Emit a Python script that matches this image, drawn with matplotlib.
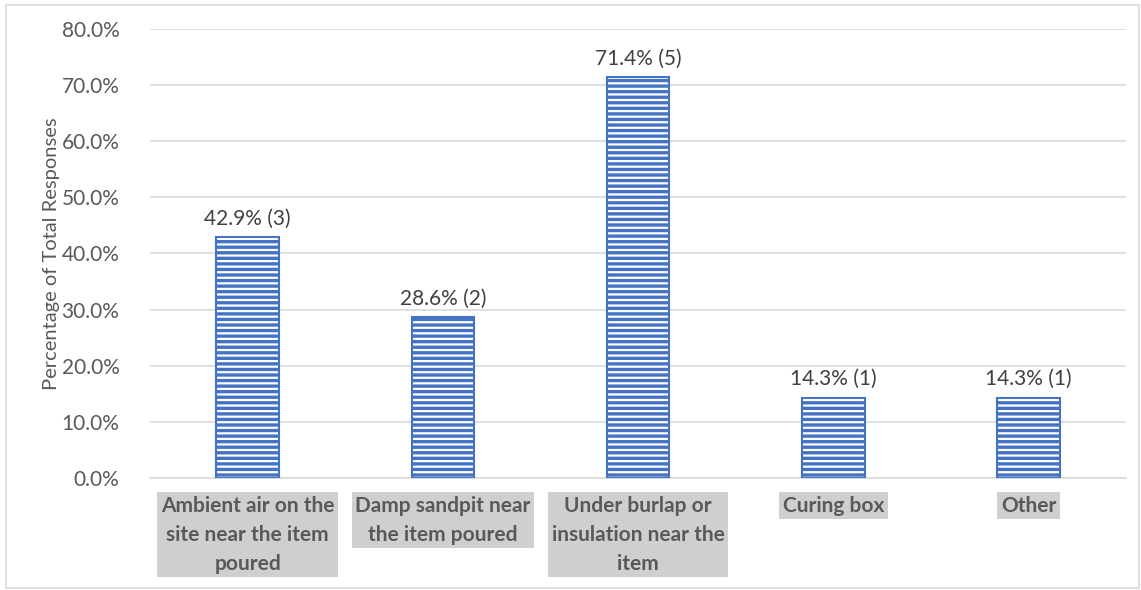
import matplotlib.pyplot as plt
from matplotlib.patches import Rectangle
from matplotlib.ticker import FuncFormatter

categories = ["Ambient air on the\nsite near the item\npoured",
              "Damp sandpit near\nthe item poured",
              "Under burlap or\ninsulation near the\nitem",
              "Curing box",
              "Other"]
percent = [42.9, 28.6, 71.4, 14.3, 14.3]
counts = [3, 2, 5, 1, 1]

plt.rcParams['font.family'] = ['Lato', 'DejaVu Sans']
plt.rcParams['hatch.linewidth'] = 2.4
plt.rcParams['hatch.color'] = '#4472C4'

fig = plt.figure(figsize=(11.41, 5.9), dpi=100)
ax = fig.add_axes([0.1315, 0.19, 0.8555, 0.761])

x = range(len(categories))
bars = ax.bar(x, [p / 100 for p in percent], width=0.32, color='white',
              edgecolor='#4472C4', linewidth=1.5, hatch='---', zorder=3)

for b, p, c in zip(bars, percent, counts):
    ax.annotate(f"{p:.1f}% ({c})", (b.get_x() + b.get_width() / 2, b.get_height()),
                xytext=(0, 6), textcoords='offset points', ha='center', va='bottom',
                fontsize=15, color='#404040')

ax.set_ylim(0, 0.8)
ax.set_xlim(-0.5, len(categories) - 0.5)
ax.set_yticks([i / 10 for i in range(9)])
ax.yaxis.set_major_formatter(FuncFormatter(lambda v, _: f"{v * 100:.1f}%"))
ax.tick_params(axis='y', length=0, labelsize=15, labelcolor='#595959', pad=22)
ax.grid(axis='y', color='#D9D9D9', linewidth=1.2, zorder=0)

ax.set_xticks(list(x))
ax.set_xticklabels(categories)
ax.tick_params(axis='x', length=0, pad=13)
for lbl in ax.get_xticklabels():
    lbl.set_fontsize(15)
    lbl.set_fontweight('bold')
    lbl.set_color('#595959')
    lbl.set_linespacing(1.55)
    lbl.set_va('top')
    lbl.set_bbox(dict(facecolor='#D0CECE', edgecolor='none', pad=2.5))

for s in ['top', 'right', 'left']:
    ax.spines[s].set_visible(False)
ax.spines['bottom'].set_color('#D9D9D9')
ax.spines['bottom'].set_linewidth(1.2)

ax.set_ylabel("Percentage of Total Responses", fontsize=14.5, color='#595959', labelpad=1)

fig.patches.append(Rectangle((0.005, 0.003), 0.993, 0.989, transform=fig.transFigure,
                             fill=False, edgecolor='#D9D9D9', linewidth=1.2))

plt.savefig("out.png", dpi=100)
